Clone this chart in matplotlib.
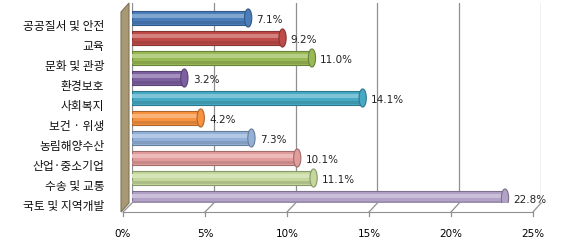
import matplotlib
matplotlib.use("Agg")
import matplotlib.pyplot as plt
import numpy as np
from matplotlib.path import Path
from matplotlib.patches import Polygon
from matplotlib.lines import Line2D
from matplotlib.transforms import ScaledTranslation
import matplotlib.colors as mcolors

plt.rcParams['font.family'] = ['Noto Sans CJK KR', 'DejaVu Sans']

categories = ['공공질서 및 안전', '교육', '문화 및 관광', '환경보호', '사회복지',
              '보건 · 위생', '농림해양수산', '산업·중소기업', '수송 및 교통', '국토 및 지역개발']
values = [7.1, 9.2, 11.0, 3.2, 14.1, 4.2, 7.3, 10.1, 11.1, 22.8]
colors = ['#4A7EBB', '#BE4B48', '#98B954', '#7D60A0', '#46AAC5',
          '#F69240', '#93B1D8', '#E29C9B', '#C4D89B', '#B3A2C7']
xticks = [0, 5, 10, 15, 20, 25]

W, H = 575, 240
fig = plt.figure(figsize=(W / 100, H / 100), dpi=100)

def fx(px):
    return px / W

def fy(py):
    return 1 - py / H

# back plane axes
bl, br, bt, bb = 132, 541, 3, 203
ax = fig.add_axes([fx(bl), fy(bb), fx(br - bl), (bb - bt) / H])
ax.set_xlim(0, 25)
ax.set_ylim(9.25, -0.75)
for s in ax.spines.values():
    s.set_visible(False)
ax.set_xticks(xticks)
ax.tick_params(axis='x', length=0, labelbottom=False)
ax.grid(axis='x', color='#909090', linewidth=0.9)
ax.set_axisbelow(True)

# side wall
wall = Polygon([(fx(121), fy(12)), (fx(129), fy(3)), (fx(129), fy(203)), (fx(121), fy(212))],
               closed=True, transform=fig.transFigure, facecolor='#A89874',
               edgecolor='#7F7358', linewidth=0.8, zorder=0)
fig.patches.append(wall)

y = np.arange(len(categories))


def shade(c, f):
    r = np.array(mcolors.to_rgb(c))
    if f > 0:
        return tuple(r + (1 - r) * f)
    return tuple(r * (1 + f))


dark = [shade(c, -0.3) for c in colors]
light = [shade(c, 0.3) for c in colors]
ax.barh(y, values, height=0.66, color=colors, edgecolor=dark, linewidth=0.8, zorder=2)
ax.barh(y - 0.1, values, height=0.22, color=light, linewidth=0, zorder=3)
ax.barh(y + 0.22, values, height=0.14, color=[shade(c, -0.12) for c in colors], linewidth=0, zorder=3)

# end caps
t = np.linspace(0, 2 * np.pi, 40)
cap = Path(np.column_stack([0.4 * np.cos(t), np.sin(t)]), closed=True)
ax.scatter(values, y, marker=cap, s=170, c=colors, edgecolors=dark, linewidths=0.8, zorder=4)

for v, yi in zip(values, y):
    ax.annotate(f'{v:.1f}%', (v, yi), xytext=(6, -1.5), textcoords='offset points',
                ha='left', va='center', fontsize=7.5, family=['DejaVu Sans'], color='#222222')

ax.set_yticks(y)
ax.set_yticklabels(categories, fontsize=8.5, color='#111111')
ax.tick_params(axis='y', length=0, pad=20)
for lab in ax.get_yticklabels():
    lab.set_transform(lab.get_transform() + ScaledTranslation(0, -7 / 100, fig.dpi_scale_trans))

# front axis
fl, fr, fb = 123, 533, 212
ax2 = fig.add_axes([fx(fl), fy(fb), fx(fr - fl), 0.001])
ax2.set_xlim(0, 25)
ax2.patch.set_visible(False)
for k in ['top', 'left', 'right']:
    ax2.spines[k].set_visible(False)
ax2.spines['bottom'].set_color('#909090')
ax2.set_yticks([])
ax2.set_xticks(xticks)
ax2.set_xticklabels([f'{v}%' for v in xticks], fontsize=7.5, family=['DejaVu Sans'])
ax2.tick_params(axis='x', length=0, pad=12)

for v in xticks:
    x_front = fl + (fr - fl) * v / 25
    x_back = bl + (br - bl) * v / 25
    fig.add_artist(Line2D([fx(x_front), fx(x_back)], [fy(fb), fy(bb)],
                          transform=fig.transFigure, color='#909090', linewidth=0.9))
    fig.add_artist(Line2D([fx(x_front), fx(x_front)], [fy(fb), fy(fb + 4)],
                          transform=fig.transFigure, color='#909090', linewidth=0.9))

fig.savefig('out.png', dpi=100)
